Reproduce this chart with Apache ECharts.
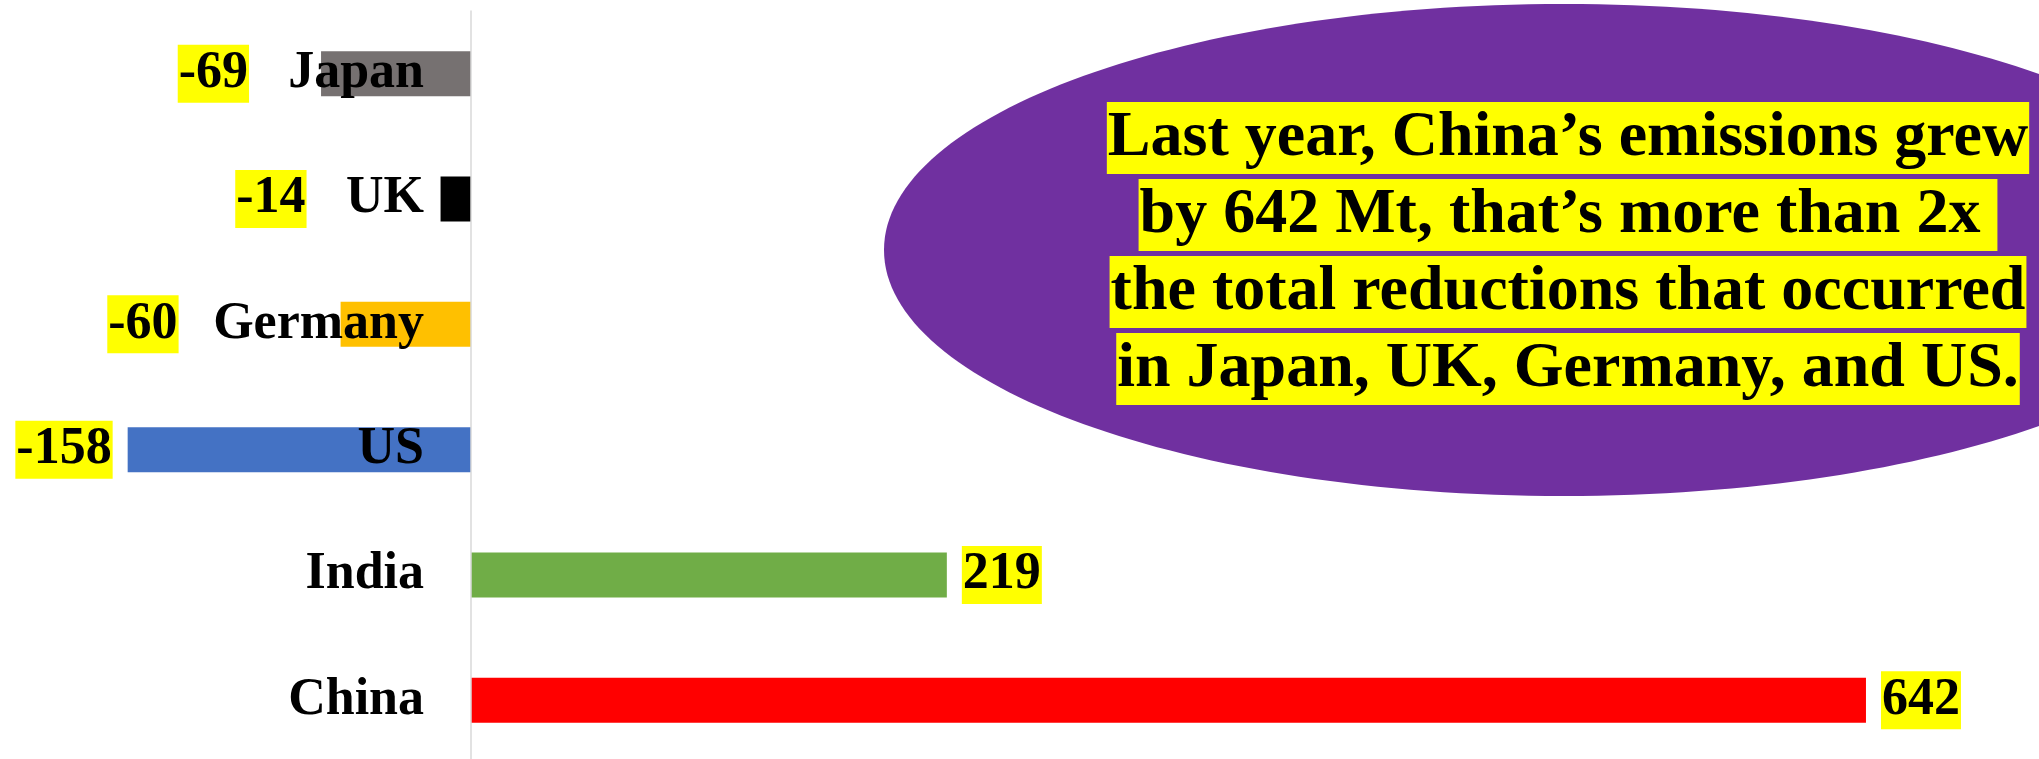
<!DOCTYPE html>
<html><head><meta charset="utf-8">
<script src="https://cdn.jsdelivr.net/npm/echarts@6/dist/echarts.min.js"></script>
<style>html,body{margin:0;padding:0;background:#fff}#c{width:2039px;height:759px}</style>
</head><body><div id="c"></div>
<script>
// ---- data ----
const categories = ['Japan', 'UK', 'Germany', 'US', 'India', 'China'];
const values = [-69, -14, -60, -158, 219, 642];
const annotationLines = [
  'Last year, China\u2019s emissions grew',
  'by 642 Mt, that\u2019s more than 2x ',
  'the total reductions that occurred',
  'in Japan, UK, Germany, and US.'
];
// ---- styles ----
const barColors = ['#767171', '#000000', '#FFC000', '#4472C4', '#70AD47', '#FF0000'];
const labelDistance = { Japan: 72, UK: 134, Germany: 162 };
const FONT = "'Liberation Serif', 'Times New Roman', serif";

const GRID_LEFT = 36.4;
const ZERO_X = 471;

const chart = echarts.init(document.getElementById('c'), null, { renderer: 'canvas' });

const seriesData = values.map((v, i) => ({
  value: v,
  itemStyle: { color: barColors[i] },
  label: {
    position: v < 0 ? 'left' : 'right',
    distance: labelDistance[categories[i]] || 15
  }
}));

const lineY = [138, 215, 292, 369];
const textEls = annotationLines.map((t, i) => ({
  type: 'text',
  x: 1568,
  y: lineY[i],
  z: 20,
  style: {
    text: t,
    fill: '#000',
    font: 'bold 64px ' + FONT,
    align: 'center',
    verticalAlign: 'middle',
    backgroundColor: '#FFFF00',
    padding: [4, 1, 4, 1],
    lineHeight: 64
  }
}));

chart.setOption({
  animation: false,
  backgroundColor: '#ffffff',
  grid: { left: GRID_LEFT, right: 47, top: 11, height: 752, containLabel: false, outerBoundsMode: 'none' },
  xAxis: {
    type: 'value', min: -200, max: 700,
    axisLine: { show: false }, axisTick: { show: false },
    axisLabel: { show: false }, splitLine: { show: false }
  },
  yAxis: {
    type: 'category', inverse: true, data: categories, z: 10,
    position: 'left',
    offset: -(ZERO_X - GRID_LEFT),
    axisLine: { show: true, onZero: false, lineStyle: { color: '#D9D9D9', width: 1.5 } },
    axisTick: { show: false },
    axisLabel: {
      margin: 47, color: '#000', fontFamily: FONT, fontWeight: 'bold', fontSize: 52
    }
  },
  series: [{
    type: 'bar',
    barWidth: 45,
    data: seriesData,
    label: {
      show: true,
      color: '#000',
      fontFamily: FONT,
      fontWeight: 'bold',
      fontSize: 52,
      backgroundColor: '#FFFF00',
      padding: [3, 1, 3, 1],
      lineHeight: 52
    }
  }],
  graphic: [
    {
      type: 'ellipse',
      shape: { cx: 1564, cy: 250, rx: 680, ry: 246 },
      style: { fill: '#7030A0' },
      z: 5
    }
  ].concat(textEls)
});
</script>
</body></html>
